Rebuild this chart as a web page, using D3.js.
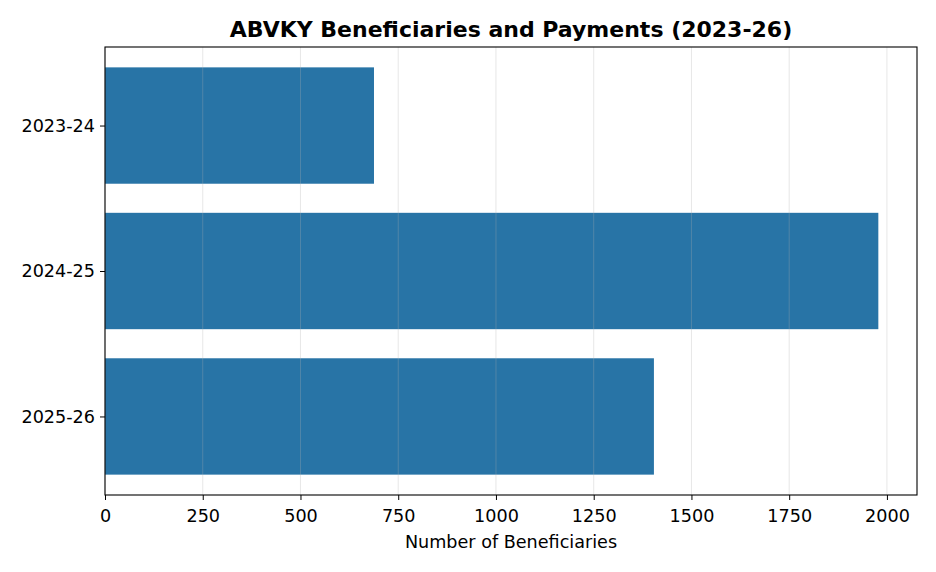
<!DOCTYPE html>
<html>
<head>
<meta charset="utf-8">
<script src="https://cdn.jsdelivr.net/npm/d3@7"></script>
<style>
  body { margin: 0; background: #fff; }
  svg { display: block; font-family: 'DejaVu Sans', sans-serif; }
</style>
</head>
<body>
<figure style="margin:0"></figure>
<script>
const years = ['2023-24', '2024-25', '2025-26']
const beneficiaries = [688, 1978, 1404]
const xTicks = [0, 250, 500, 750, 1000, 1250, 1500, 1750, 2000]

const width = 936
const height = 572
const margin = { top: 47, right: 19, bottom: 77, left: 105 }
const innerW = width - margin.left - margin.right
const innerH = height - margin.top - margin.bottom
const tickFont = 17.6

const svg = d3.select('figure').append('svg')
  .attr('width', width)
  .attr('height', height)

const g = svg.append('g')
  .attr('transform', `translate(${margin.left},${margin.top})`)

// matplotlib style: 5% margin on x, bars 0.8 tall with 5% y margin
const xMax = d3.max(beneficiaries) * 1.05
const x = d3.scaleLinear().domain([0, xMax]).range([0, innerW])
const y = d3.scaleLinear().domain([-0.54, 2.54]).range([0, innerH])

g.selectAll('rect.bar')
  .data(beneficiaries)
  .join('rect')
  .attr('class', 'bar')
  .attr('x', x(0))
  .attr('y', (d, i) => y(i - 0.4))
  .attr('width', d => x(d) - x(0))
  .attr('height', (d, i) => y(i + 0.4) - y(i - 0.4))
  .attr('fill', '#2874a6')

// grid on top of bars, faint
g.append('g')
  .selectAll('line')
  .data(xTicks)
  .join('line')
  .attr('x1', d => x(d)).attr('x2', d => x(d))
  .attr('y1', 0).attr('y2', innerH)
  .attr('stroke', '#b0b0b0')
  .attr('stroke-opacity', 0.3)
  .attr('stroke-width', 1)

const xAxis = g.append('g')
  .attr('transform', `translate(0,${innerH})`)
  .call(d3.axisBottom(x).tickValues(xTicks).tickFormat(d3.format('d')).tickSizeOuter(0).tickSize(5).tickPadding(10))
xAxis.select('.domain').remove()
xAxis.selectAll('text').attr('font-size', tickFont).attr('fill', '#000').attr('font-family', 'DejaVu Sans')
xAxis.selectAll('line').attr('stroke', '#000')

const yAxis = g.append('g')
  .call(d3.axisLeft(y).tickValues([0, 1, 2]).tickFormat(i => years[i]).tickSizeOuter(0).tickSize(5).tickPadding(5))
yAxis.select('.domain').remove()
yAxis.selectAll('text').attr('font-size', tickFont).attr('fill', '#000').attr('font-family', 'DejaVu Sans')
yAxis.selectAll('line').attr('stroke', '#000')

// frame
g.append('rect')
  .attr('width', innerW).attr('height', innerH)
  .attr('fill', 'none').attr('stroke', '#000').attr('stroke-width', 1.1)

svg.append('text')
  .attr('x', margin.left + innerW / 2)
  .attr('y', 37)
  .attr('text-anchor', 'middle')
  .attr('font-size', 22)
  .attr('font-weight', 'bold')
  .text('ABVKY Beneficiaries and Payments (2023-26)')

svg.append('text')
  .attr('x', margin.left + innerW / 2)
  .attr('y', 548)
  .attr('text-anchor', 'middle')
  .attr('font-size', tickFont)
  .text('Number of Beneficiaries')
</script>
</body>
</html>
